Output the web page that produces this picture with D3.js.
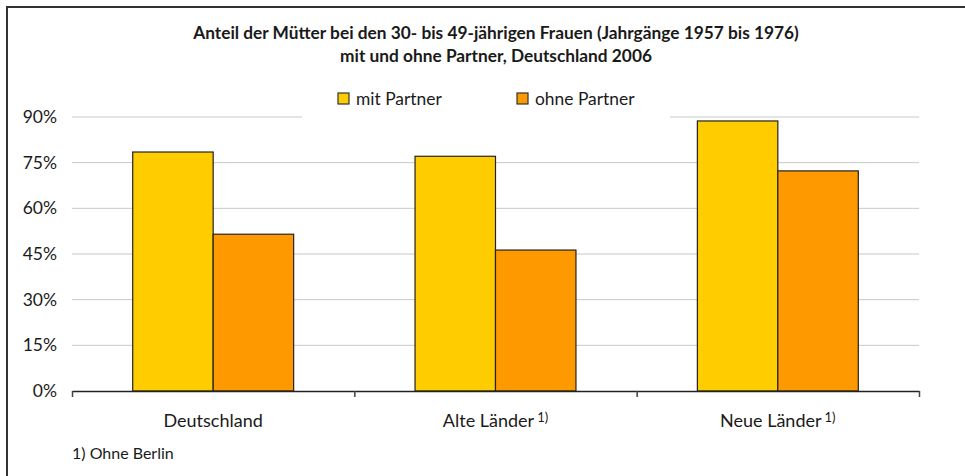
<!DOCTYPE html>
<html>
<head>
<meta charset="utf-8">
<script src="https://cdn.jsdelivr.net/npm/d3@7"></script>
<style>
  body { margin: 0; background: #fff; }
  #chart { width: 965px; height: 476px; }
  text { font-family: "Lato", "Liberation Sans", sans-serif; fill: #1a1a1a; }
</style>
</head>
<body>
<div id="chart"></div>
<script>
// data
var categories = ['Deutschland', 'Alte Länder', 'Neue Länder'];
var footnoteMarks = ['', '1)', '1)'];
var series = ['mit Partner', 'ohne Partner'];
var mitPartner = [0.785, 0.771, 0.887];
var ohnePartner = [0.515, 0.463, 0.723];
var yTicks = [0, 0.15, 0.30, 0.45, 0.60, 0.75, 0.90];
var colors = ['#ffcc00', '#ff9900'];

var width = 965, height = 476;
var margin = { top: 117, right: 46, bottom: 85, left: 72 };

var svg = d3.select('#chart').append('svg')
    .attr('width', width)
    .attr('height', height);

// frame
svg.append('path')
    .attr('d', 'M7,' + height + 'V7H' + width)
    .style('fill', 'none')
    .style('stroke', '#333')
    .style('stroke-width', 2);

// title
var title = svg.append('text')
    .attr('text-anchor', 'middle')
    .style('font-weight', 'bold')
    .style('font-size', '17.3px');
title.append('tspan').attr('x', 496).attr('y', 39)
    .text('Anteil der Mütter bei den 30- bis 49-jährigen Frauen (Jahrgänge 1957 bis 1976)');
title.append('tspan').attr('x', 496).attr('y', 62)
    .text('mit und ohne Partner, Deutschland 2006');

var plat = svg.append('g')
    .attr('transform', 'translate(' + margin.left + ',' + margin.top + ')');
var w = width - margin.left - margin.right;
var h = height - margin.top - margin.bottom;

var xScale = d3.scaleBand()
    .domain(categories)
    .range([0, w])
    .paddingInner(0.43)
    .paddingOuter(0.215);
var xInner = d3.scaleBand()
    .domain(series)
    .range([0, xScale.bandwidth()]);
var yScale = d3.scaleLinear()
    .domain([0, 0.9])
    .range([h, 0]);

// gridlines
plat.append('g')
    .attr('class', 'grid')
    .selectAll('line')
    .data(yTicks.slice(1))
    .enter().append('line')
    .attr('x1', 0)
    .attr('x2', w)
    .attr('y1', function (d) { return yScale(d); })
    .attr('y2', function (d) { return yScale(d); })
    .style('stroke', '#c8c8c8')
    .style('stroke-width', 1);

// y axis labels
var yAxis = d3.axisLeft(yScale)
    .tickValues(yTicks)
    .tickFormat(d3.format('.0%'))
    .tickSize(0)
    .tickPadding(15);
plat.append('g').call(yAxis)
    .call(function (g) { g.select('.domain').remove(); })
    .selectAll('text')
    .style('font-size', '17.5px')
    .style('font-family', '"Lato", sans-serif')
    .style('fill', '#1a1a1a');

// bars
var rows = categories.map(function (c, i) {
    return { cat: c, values: [mitPartner[i], ohnePartner[i]] };
});
var groups = plat.selectAll('.group')
    .data(rows)
    .enter().append('g')
    .attr('class', 'group')
    .attr('transform', function (d) { return 'translate(' + xScale(d.cat) + ',0)'; });
groups.selectAll('rect')
    .data(function (d) { return d.values.map(function (v, j) { return { s: series[j], v: v, j: j }; }); })
    .enter().append('rect')
    .attr('x', function (d) { return xInner(d.s); })
    .attr('width', xInner.bandwidth())
    .attr('y', function (d) { return yScale(d.v); })
    .attr('height', function (d) { return h - yScale(d.v); })
    .style('fill', function (d) { return colors[d.j]; })
    .style('stroke', '#222')
    .style('stroke-width', 1.2);

// x axis with boundary ticks
var xBounds = d3.scaleLinear().domain([0, categories.length]).range([0, w]);
var xAxis = d3.axisBottom(xBounds)
    .tickValues(d3.range(categories.length + 1))
    .tickFormat('')
    .tickSizeInner(6)
    .tickSizeOuter(0);
plat.append('g')
    .attr('transform', 'translate(0,' + h + ')')
    .call(xAxis)
    .call(function (g) {
        g.select('.domain').style('stroke', '#222').style('stroke-width', 1.5);
        g.selectAll('.tick line').style('stroke', '#444').style('stroke-width', 1.5);
    });

// category labels
var labels = plat.selectAll('.cat-label')
    .data(categories)
    .enter().append('text')
    .attr('class', 'cat-label')
    .attr('x', function (d) { return xScale(d) + xScale.bandwidth() / 2; })
    .attr('y', h + 36)
    .attr('text-anchor', 'middle')
    .style('font-size', '18px');
labels.append('tspan').text(function (d) { return d; });
labels.append('tspan')
    .attr('dx', 3)
    .attr('dy', -5)
    .style('font-size', '13px')
    .text(function (d, i) { return footnoteMarks[i]; });

// legend (white box hides gridline behind it)
svg.append('rect')
    .attr('x', 302).attr('y', 84).attr('width', 368).attr('height', 40)
    .style('fill', '#fff');
var legend = svg.selectAll('.legend')
    .data(series)
    .enter().append('g')
    .attr('class', 'legend')
    .attr('transform', function (d, i) { return 'translate(' + (338 + i * 179) + ',93)'; });
legend.append('rect')
    .attr('width', 11).attr('height', 11)
    .style('fill', function (d, i) { return colors[i]; })
    .style('stroke', '#333')
    .style('stroke-width', 1.2);
legend.append('text')
    .attr('x', 18).attr('y', 12)
    .style('font-size', '17.4px')
    .text(function (d) { return d; });

// footnote
svg.append('text')
    .attr('x', 72).attr('y', 459)
    .style('font-size', '16px')
    .text('1) Ohne Berlin');
</script>
</body>
</html>
